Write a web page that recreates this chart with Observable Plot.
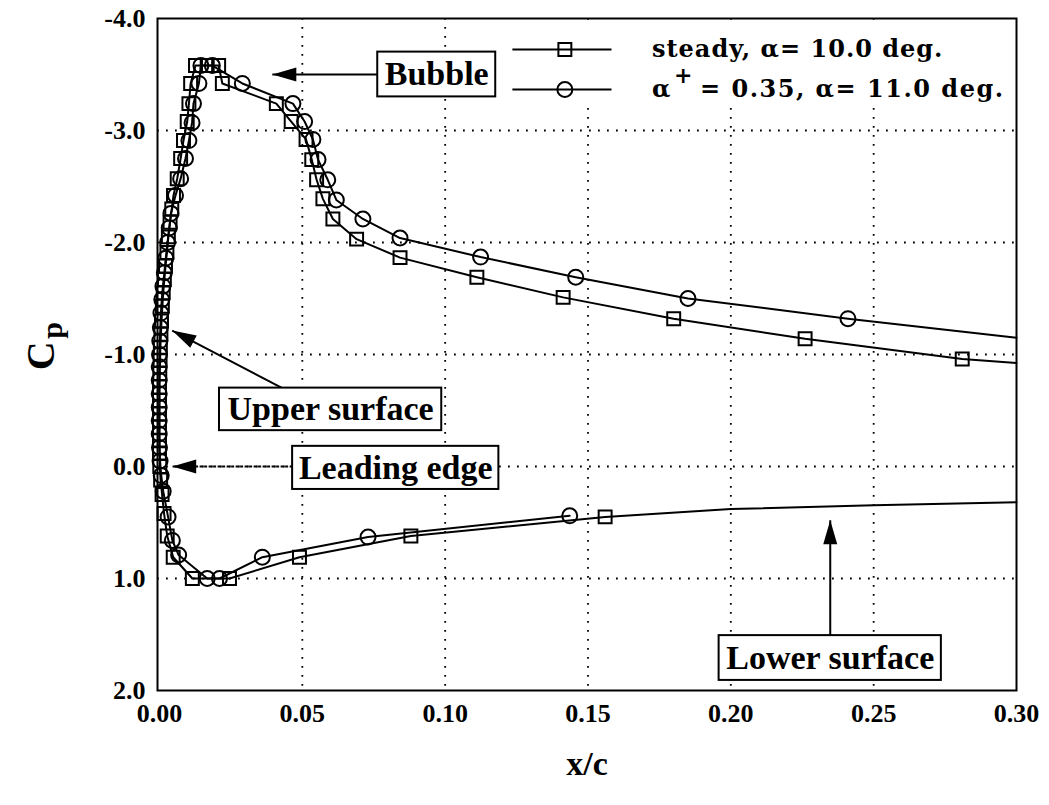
<!DOCTYPE html>
<html><head><meta charset="utf-8">
<script src="https://cdn.jsdelivr.net/npm/d3@7"></script>
<script src="https://cdn.jsdelivr.net/npm/@observablehq/plot@0.6"></script>
<style>body{margin:0;background:#fff}</style>
</head><body><div id="chart"></div>
<script>
// ---- data ----
const xTicks = [0, 0.05, 0.10, 0.15, 0.20, 0.25, 0.30];
const yTicks = [-4, -3, -2, -1, 0, 1, 2];

// steady, alpha = 10.0 deg (squares), ordered upper surface aft -> leading edge -> lower surface
const steadyX = [0.281,0.226,0.180,0.1413,0.1111,0.0842,0.069,0.0607,0.0572,0.0550,0.0533,0.0513,0.0461,0.0409,0.0220,0.0207,0.0167,0.0126,0.0109,0.0103,0.0097,0.0084,0.0074,0.0062,0.0049,0.0043,0.0037,0.0031,0.0026,0.0021,0.0017,0.0013,0.0010,0.0007,0.0005,0.0003,0.0002,0.0001,0,0,0,0,0,0,0.0001,0.0004,0.0009,0.0016,0.0027,0.0048,0.0115,0.0245,0.049,0.088,0.156];
const steadyCp = [-0.96,-1.14,-1.32,-1.51,-1.69,-1.865,-2.03,-2.21,-2.39,-2.56,-2.74,-2.92,-3.08,-3.24,-3.42,-3.58,-3.58,-3.58,-3.42,-3.24,-3.08,-2.91,-2.75,-2.57,-2.42,-2.30,-2.18,-2.05,-1.91,-1.79,-1.67,-1.55,-1.43,-1.30,-1.18,-1.06,-0.95,-0.83,-0.71,-0.59,-0.47,-0.35,-0.23,-0.12,0.0,0.12,0.25,0.42,0.62,0.81,1.0,1.0,0.81,0.62,0.45];
// line-only continuation of the steady curve
const steadyHeadX = [0.30];
const steadyHeadCp = [-0.925];
const steadyTailX = [0.20, 0.25, 0.30];
const steadyTailCp = [0.38, 0.345, 0.32];

// alpha+ = 0.35, alpha = 11.0 deg (circles)
const unsteadyX = [0.241,0.185,0.1457,0.1124,0.0842,0.0712,0.0619,0.0589,0.0555,0.0537,0.0508,0.0467,0.029,0.0185,0.0145,0.0138,0.0119,0.0114,0.0103,0.0091,0.0074,0.0056,0.0040,0.0034,0.0028,0.0022,0.0017,0.0012,0.0008,0.0005,0.0003,0.0001,0,-0.0001,-0.0001,-0.0001,-0.0001,-0.0001,-0.0001,0,0.0002,0.0006,0.0013,0.0030,0.0045,0.0067,0.0167,0.021,0.036,0.073,0.1436];
const unsteadyCp = [-1.32,-1.50,-1.69,-1.87,-2.04,-2.21,-2.38,-2.56,-2.74,-2.92,-3.08,-3.24,-3.42,-3.58,-3.58,-3.42,-3.24,-3.07,-2.91,-2.75,-2.57,-2.42,-2.26,-2.13,-2.00,-1.86,-1.73,-1.61,-1.49,-1.37,-1.24,-1.12,-1.00,-0.89,-0.77,-0.65,-0.53,-0.41,-0.29,-0.17,-0.05,0.08,0.22,0.45,0.66,0.79,1.0,1.0,0.81,0.63,0.44];
const unsteadyHeadX = [0.30];
const unsteadyHeadCp = [-1.15];

// annotations (data coordinates)
const annoLabels = ["Bubble", "Upper surface", "Leading edge", "Lower surface"];
const annoX1 = [0.0764, 0.0210, 0.0466, 0.1959];
const annoX2 = [0.1177, 0.0988, 0.1188, 0.2737];
const annoY1 = [-3.70, -0.70, -0.18, 1.51];
const annoY2 = [-3.30, -0.32, 0.205, 1.91];
const arrowFromX = [0.0764, 0.043, 0.0466, 0.2348];
const arrowFromY = [-3.5, -0.70, 0.0, 1.51];
const arrowToX = [0.0395, 0.00445, 0.00445, 0.2348];
const arrowToY = [-3.5, -1.214, 0.0, 0.48];

// legend
const legendLabels = ["steady, \u03b1= 10.0 deg.", "\u03b1", "+", "= 0.35, \u03b1= 11.0 deg."];
const legendTextX = [0.1724, 0.1724, 0.1801, 0.1892];
const legendTextY = [-3.723, -3.366, -3.49, -3.366];
const legendRowY = [-3.723, -3.366];
const legendLineX1 = 0.1237, legendLineX2 = 0.1584, legendMarkX = 0.1419;

// ---- build tables ----
const zip = (xs, ys) => xs.map((x, i) => ({x, y: ys[i]}));
const steadyPts = zip(steadyX, steadyCp);
const unsteadyPts = zip(unsteadyX, unsteadyCp);
const steadyLine = [...zip(steadyHeadX, steadyHeadCp), ...steadyPts, ...zip(steadyTailX, steadyTailCp)];
const unsteadyLine = [...zip(unsteadyHeadX, unsteadyHeadCp), ...unsteadyPts];
const annos = annoLabels.map((t, i) => ({t, x1: annoX1[i], x2: annoX2[i], y1: annoY1[i], y2: annoY2[i],
  fx: arrowFromX[i], fy: arrowFromY[i], tx: arrowToX[i], ty: arrowToY[i]}));
const legendTexts = legendLabels.map((t, i) => ({t, x: legendTextX[i], y: legendTextY[i]}));

const serif = "Liberation Serif, Times New Roman, serif";
const lineStyle = {x: "x", y: "y", stroke: "black", strokeWidth: 2};

const svg = Plot.plot({
  width: 1049, height: 805,
  marginLeft: 157, marginRight: 33, marginTop: 18, marginBottom: 115,
  style: {fontFamily: serif, fontSize: "26px", fontWeight: "bold", background: "white", color: "black", overflow: "visible"},
  x: {domain: [-0.0007, 0.30], ticks: xTicks, tickFormat: d => d.toFixed(2), tickSize: 0, tickPadding: 13, label: null},
  y: {domain: [-4, 2], reverse: true, ticks: yTicks, tickFormat: d => d.toFixed(1), tickSize: 0, tickPadding: 12, label: null},
  marks: [
    Plot.gridX(xTicks.slice(1, -1), {stroke: "black", strokeOpacity: 1, strokeWidth: 1.8, strokeDasharray: "1.8,7.2"}),
    Plot.gridY(yTicks.slice(1, -1), {stroke: "black", strokeOpacity: 1, strokeWidth: 1.8, strokeDasharray: "1.8,7.2"}),
    // legend background
    Plot.rect([0], {x1: 0.1216, x2: 0.2989, y1: -3.946, y2: -3.214, fill: "white"}),
    Plot.line(steadyLine, lineStyle),
    Plot.line(unsteadyLine, lineStyle),
    Plot.dot(steadyPts, {x: "x", y: "y", symbol: "square", r: 7.3, stroke: "black", strokeWidth: 2, fill: "none"}),
    Plot.dot(unsteadyPts, {x: "x", y: "y", symbol: "circle", r: 7.5, stroke: "black", strokeWidth: 2, fill: "none"}),
    // annotation boxes + arrows
    Plot.link(annos, {x1: "fx", y1: "fy", x2: "tx", y2: "ty", stroke: "black", strokeWidth: 2}),
    Plot.rect(annos, {x1: "x1", x2: "x2", y1: "y1", y2: "y2", fill: "white", stroke: "black", strokeWidth: 2}),
    Plot.text(annos, {x: d => (d.x1 + d.x2) / 2, y: d => (d.y1 + d.y2) / 2, text: "t", fontSize: 34, fontFamily: serif, fontWeight: "bold", fill: "black"}),
    // legend
    Plot.ruleY(legendRowY, {y: d => d, x1: legendLineX1, x2: legendLineX2, stroke: "black", strokeWidth: 2}),
    Plot.dot([legendRowY[0]], {x: legendMarkX, y: d => d, symbol: "square", r: 7.3, stroke: "black", strokeWidth: 2, fill: "none"}),
    Plot.dot([legendRowY[1]], {x: legendMarkX, y: d => d, symbol: "circle", r: 7.5, stroke: "black", strokeWidth: 2, fill: "none"}),
    Plot.text(legendTexts, {x: "x", y: "y", text: "t", textAnchor: "start", fontSize: 24, fontFamily: "DejaVu Serif, serif", fontWeight: "bold", fill: "black"}),
    // axis titles
    Plot.text([{t: "C", y: -0.86}], {y: "y", text: "t", frameAnchor: "left", dx: -116, rotate: -90, fontSize: 40, fontFamily: serif, fontWeight: "bold"}),
    Plot.text([{t: "p", y: -1.14}], {y: "y", text: "t", frameAnchor: "left", dx: -105, rotate: -90, fontSize: 30, fontFamily: serif, fontWeight: "bold"}),
    Plot.text(["x/c"], {text: d => d, frameAnchor: "bottom", dy: 84, fontSize: 34, fontFamily: serif, fontWeight: "bold"}),
    Plot.frame({stroke: "black", strokeWidth: 2})
  ]
});

// filled arrowheads
const s = d3.select(svg);
const defs = s.insert("defs", ":first-child");
defs.append("marker").attr("id", "ahead")
  .attr("viewBox", "-26 -9 28 18").attr("refX", 0).attr("refY", 0)
  .attr("markerWidth", 28).attr("markerHeight", 18)
  .attr("markerUnits", "userSpaceOnUse").attr("orient", "auto")
  .append("path").attr("d", "M-24,-7L0,0L-24,7Z").attr("fill", "black");
const arrows = s.selectAll('g[aria-label="link"] path');
arrows.attr("marker-end", "url(#ahead)");
arrows.filter((d, i) => i === 2).attr("stroke-dasharray", "3,1.5");
const legendText = s.selectAll('g[font-size="24"] text');
legendText.style("letter-spacing", (d, i) => i === 3 ? "1.5px" : "1px");
legendText.filter((d, i) => i === 2).style("font-size", "22px");

document.getElementById("chart").appendChild(svg);
</script>
</body></html>
